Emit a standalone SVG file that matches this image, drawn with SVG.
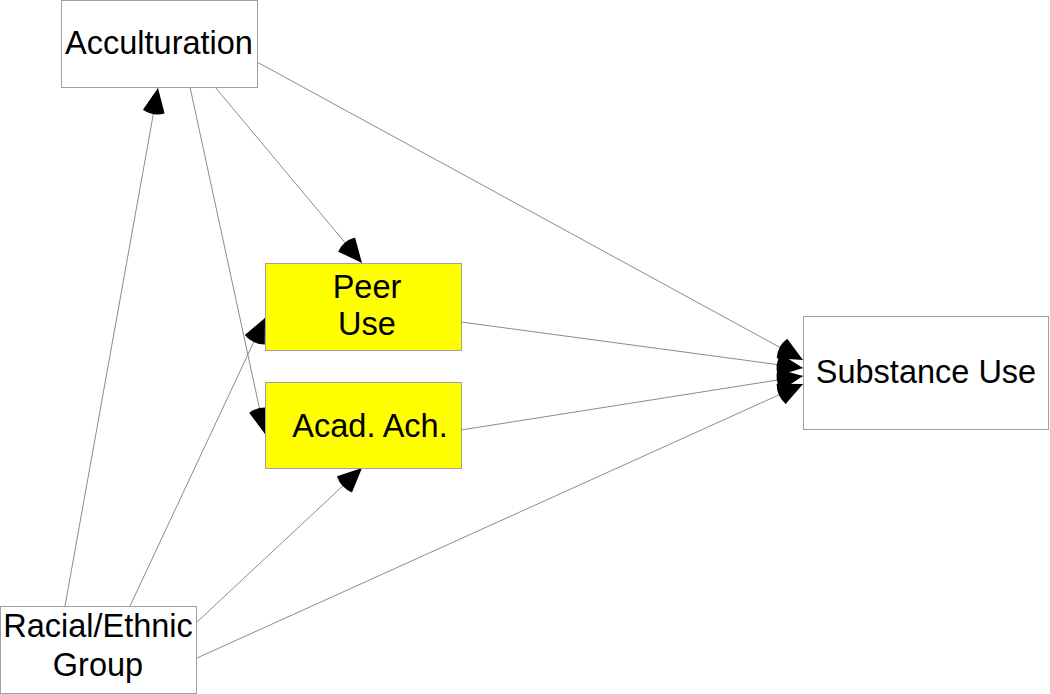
<svg xmlns="http://www.w3.org/2000/svg" width="1050" height="694" viewBox="0 0 1050 694">
<style>
.box{stroke:#a0a0a0;stroke-width:1;}
.w{fill:#ffffff;}
.y{fill:#ffff00;}
.t{font-family:"Liberation Sans",Arial,sans-serif;font-size:32.5px;fill:#000;text-anchor:middle;}
.e{stroke:#8c8c8c;stroke-width:1;fill:none;marker-end:url(#wedge);}
</style>
<defs>
<marker id="wedge" markerUnits="userSpaceOnUse" viewBox="-28 -14 30 28" refX="0" refY="0" markerWidth="30" markerHeight="28" orient="auto" overflow="visible">
<path d="M0,0 L-24,-11 A26.4,26.4 0 0 0 -24,11 Z" fill="#000"/>
</marker>
</defs>
<g id="connectors">
<line class="e" x1="65" y1="606" x2="158" y2="88"/>
<line class="e" x1="130" y1="606" x2="265" y2="318"/>
<line class="e" x1="197" y1="622" x2="362" y2="468"/>
<line class="e" x1="197" y1="658" x2="803" y2="384"/>
<line class="e" x1="190" y1="87" x2="265" y2="434"/>
<line class="e" x1="215" y1="87" x2="362" y2="263"/>
<line class="e" x1="257" y1="62" x2="803" y2="360"/>
<line class="e" x1="461" y1="322" x2="803" y2="368"/>
<line class="e" x1="461" y1="430" x2="803" y2="376"/>
</g>
<g id="acculturation">
<rect class="box w" x="61.5" y="0.5" width="196" height="87"/>
<text class="t" x="159" y="54">Acculturation</text>
</g>
<g id="peer-use">
<rect class="box y" x="265.5" y="263.5" width="196" height="87"/>
<text class="t" x="367" y="298">Peer</text>
<text class="t" x="367" y="335">Use</text>
</g>
<g id="acad-ach">
<rect class="box y" x="265.5" y="382.5" width="196" height="86"/>
<text class="t" x="370" y="437">Acad. Ach.</text>
</g>
<g id="substance-use">
<rect class="box w" x="803.5" y="316.5" width="245" height="113"/>
<text class="t" x="926" y="383">Substance Use</text>
</g>
<g id="racial-ethnic">
<rect class="box w" x="0.5" y="606.5" width="196" height="87"/>
<text class="t" x="98" y="637">Racial/Ethnic</text>
<text class="t" x="98" y="676">Group</text>
</g>
</svg>
